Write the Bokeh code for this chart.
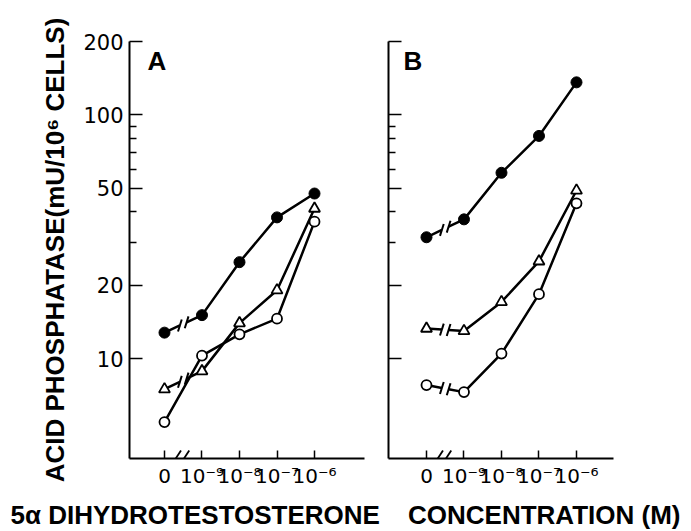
from bokeh.plotting import figure
from bokeh.layouts import column, row
from bokeh.models import Range1d, FixedTicker, PrintfTickFormatter, Label, CustomJSTickFormatter
from bokeh.core.properties import value
from bokeh.embed import file_html
from bokeh.resources import INLINE

# ---------------- data ----------------
conc_labels = ["0", "10\u207b\u2079", "10\u207b\u2078", "10\u207b\u2077", "10\u207b\u2076"]

A_filled = [12.8, 15.1, 24.9, 38.0, 47.6]
A_triangle = [7.5, 8.9, 14.0, 19.1, 41.3]
A_open = [5.5, 10.3, 12.6, 14.6, 36.5]

B_filled = [31.5, 37.3, 57.9, 82.0, 136.0]
B_triangle = [13.3, 13.0, 17.1, 25.1, 49.0]
B_open = [7.8, 7.3, 10.5, 18.4, 43.4]

y_major = [10, 20, 50, 100, 200]
y_minor = [30, 40, 60, 70, 80, 90]

FONT = "Liberation Sans"
TICK_FONT = "DejaVu Sans"
LW = 2.5


def make_panel(width, b_left, b_right, x_start, x_end, show_ylabels):
    p = figure(width=width, height=490, y_axis_type="log",
               x_range=Range1d(x_start, x_end), y_range=Range1d(3.9, 200),
               output_backend="svg", toolbar_location=None,
               min_border_left=b_left, min_border_right=b_right,
               min_border_top=41, min_border_bottom=30)
    p.outline_line_color = None
    p.grid.visible = False
    p.background_fill_color = "white"
    p.border_fill_color = "white"

    xa = p.xaxis[0]
    xa.ticker = FixedTicker(ticks=list(range(len(conc_labels))))
    xa.major_label_overrides = {i: lab for i, lab in enumerate(conc_labels)}
    xa.major_tick_in = 8
    xa.major_tick_out = 0
    xa.minor_tick_line_color = None
    xa.axis_line_width = 2
    xa.major_tick_line_width = 1.5
    xa.major_label_standoff = 5
    xa.major_label_text_font = TICK_FONT
    xa.major_label_text_font_size = "20px"
    xa.major_label_text_color = "black"

    ya = p.yaxis[0]
    ya.ticker = FixedTicker(ticks=y_major, minor_ticks=y_minor)
    if show_ylabels:
        ya.formatter = PrintfTickFormatter(format="%d")
    else:
        ya.formatter = CustomJSTickFormatter(code="return ''")
    ya.major_tick_in = 13
    ya.major_tick_out = 0
    ya.minor_tick_in = 7
    ya.minor_tick_out = 0
    ya.axis_line_width = 2
    ya.major_tick_line_width = 1.5
    ya.minor_tick_line_width = 1.5
    ya.major_label_standoff = 6
    ya.major_label_text_font = TICK_FONT
    ya.major_label_text_font_size = "21px"
    ya.major_label_text_color = "black"
    return p


def draw_series(p, ys, broken, kind):
    xs = list(range(len(ys)))
    if broken:
        xm = (xs[0] + xs[1]) / 2.0
        d = 0.09

        def interp(x):
            t = (x - xs[0]) / (xs[1] - xs[0])
            return ys[0] * (ys[1] / ys[0]) ** t

        xa, xb = xm - d, xm + d
        p.line([xs[0], xa], [ys[0], interp(xa)], line_color="black", line_width=LW)
        p.line([xb] + xs[1:], [interp(xb)] + ys[1:], line_color="black", line_width=LW)
        k = 10 ** (6 / 245.0)
        p.segment(x0=[xa - 0.05, xb - 0.05], y0=[interp(xa) / k, interp(xb) / k],
                  x1=[xa + 0.05, xb + 0.05], y1=[interp(xa) * k, interp(xb) * k],
                  line_color="black", line_width=2)
    else:
        p.line(xs, ys, line_color="black", line_width=LW)

    if kind == "filled":
        p.scatter(xs, ys, marker="circle", size=11, fill_color="black",
                  line_color="black", line_width=1)
    elif kind == "open":
        p.scatter(xs, ys, marker="circle", size=10, fill_color="white",
                  line_color="black", line_width=1.8)
    else:
        p.scatter(xs, ys, marker="triangle", size=11, fill_color="white",
                  line_color="black", line_width=1.8)


def axis_break(p):
    k = 10 ** (8 / 245.0)
    yb = p.y_range.start
    p.segment(x0=[0.30, 0.52], y0=[yb, yb], x1=[0.44, 0.66], y1=[yb * k, yb * k],
              line_color="black", line_width=1.8)


# ---------------- panel A ----------------
pA = make_panel(370, 129, 6, -0.933, 5.333, True)
pA.yaxis[0].axis_label = "ACID PHOSPHATASE(mU/10\u2076 CELLS)"
pA.yaxis[0].axis_label_text_font = FONT
pA.yaxis[0].axis_label_text_font_style = "bold"
pA.yaxis[0].axis_label_text_font_size = "26px"
pA.yaxis[0].axis_label_standoff = 10
pA.yaxis[0].axis_label_text_color = "black"

draw_series(pA, A_filled, True, "filled")
draw_series(pA, A_triangle, True, "triangle")
draw_series(pA, A_open, False, "open")
axis_break(pA)
pA.add_layout(Label(x=-0.45, y=192, text="A", text_baseline="top", text_font=FONT,
                    text_font_size="26px", text_font_style="bold", text_color="black"))

# ---------------- panel B ----------------
pB = make_panel(321, 18, 78, -1.013, 4.987, False)
draw_series(pB, B_filled, True, "filled")
draw_series(pB, B_triangle, True, "triangle")
draw_series(pB, B_open, True, "open")
axis_break(pB)
pB.add_layout(Label(x=-0.61, y=192, text="B", text_baseline="top", text_font=FONT,
                    text_font_size="26px", text_font_style="bold", text_color="black"))

# ---------------- x label strip ----------------
pX = figure(width=691, height=41, x_range=Range1d(0, 691), y_range=Range1d(0, 41),
            output_backend="svg", toolbar_location=None, min_border=0,
            x_axis_location=None, y_axis_location=None)
pX.outline_line_color = None
pX.grid.visible = False
pX.text(x=[10], y=[17], text=["5\u03b1 DIHYDROTESTOSTERONE"], text_align="left",
        text_baseline="middle", text_font=value(FONT), text_font_size="26px",
        text_font_style="bold", text_color="black")
pX.text(x=[680], y=[17], text=["CONCENTRATION (M)"], text_align="right",
        text_baseline="middle", text_font=value(FONT), text_font_size="26px",
        text_font_style="bold", text_color="black")

layout = column(row(pA, pB), pX)
open("out.html", "w").write(file_html(layout, INLINE))
